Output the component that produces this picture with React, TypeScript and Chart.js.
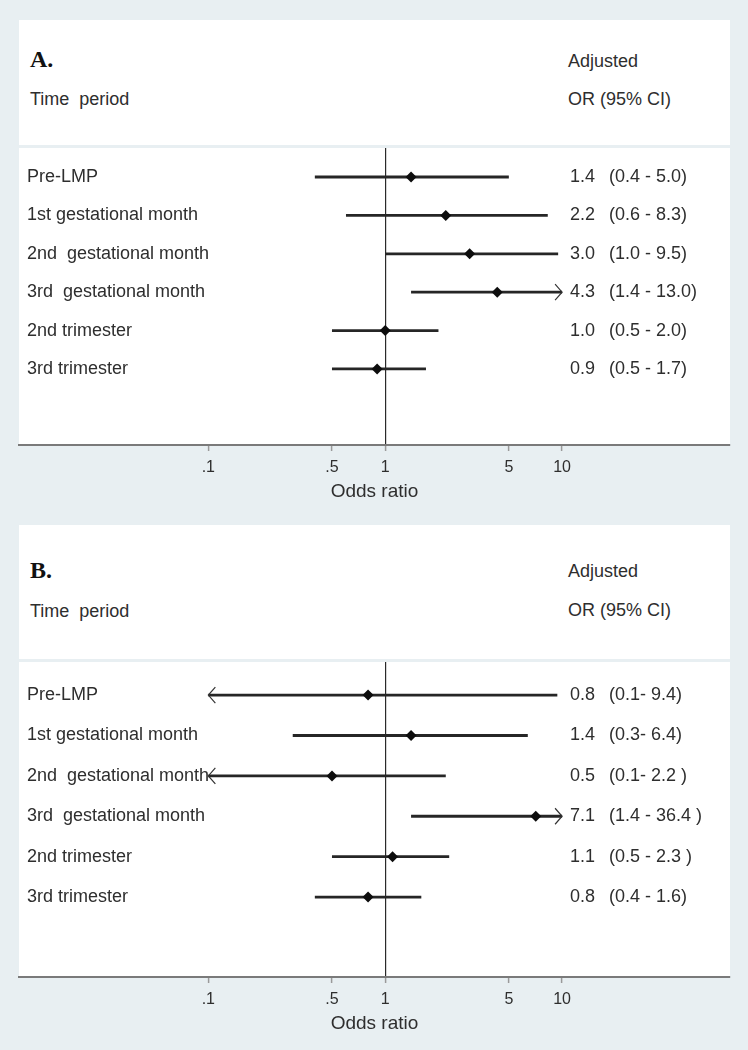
import React, { useEffect, useRef } from "react";
import { Chart, registerables } from "chart.js";

Chart.register(...registerables);

// ---------------- data ----------------
const ROW_LABELS = [
  "Pre-LMP",
  "1st gestational month",
  "2nd  gestational month",
  "3rd  gestational month",
  "2nd trimester",
  "3rd trimester",
];

// Panel A
const A_OR = [1.4, 2.2, 3.0, 4.3, 1.0, 0.9];
const A_LO = [0.4, 0.6, 1.0, 1.4, 0.5, 0.5];
const A_HI = [5.0, 8.3, 9.5, 13.0, 2.0, 1.7];
const A_OR_TEXT = ["1.4", "2.2", "3.0", "4.3", "1.0", "0.9"];
const A_CI_TEXT = ["(0.4 - 5.0)", "(0.6 - 8.3)", "(1.0 - 9.5)", "(1.4 - 13.0)", "(0.5 - 2.0)", "(0.5 - 1.7)"];

// Panel B
const B_OR = [0.8, 1.4, 0.5, 7.1, 1.1, 0.8];
const B_LO = [0.1, 0.3, 0.1, 1.4, 0.5, 0.4];
const B_HI = [9.4, 6.4, 2.2, 36.4, 2.3, 1.6];
const B_OR_TEXT = ["0.8", "1.4", "0.5", "7.1", "1.1", "0.8"];
const B_CI_TEXT = ["(0.1- 9.4)", "(0.3- 6.4)", "(0.1- 2.2 )", "(1.4 - 36.4 )", "(0.5 - 2.3 )", "(0.4 - 1.6)"];

// axis
const TICK_VALUES = [0.1, 0.5, 1, 5, 10];
const TICK_LABELS = [".1", ".5", "1", "5", "10"];
const CLIP_MIN = 0.1;
const CLIP_MAX = 10;
const X_MIN = 0.0085;
const X_MAX = 89;

// ---------------- style ----------------
const BG = "#e8eff2";
const INK = "#2e2e2e";
const FONT = '"Liberation Sans", Arial, sans-serif';
const SERIF = '"Liberation Serif", "Times New Roman", serif';

const forestPlugin = {
  id: "forest",
  beforeDraw(chart: any) {
    const { ctx, chartArea } = chart;
    ctx.save();
    ctx.fillStyle = "#ffffff";
    ctx.fillRect(chartArea.left, chartArea.top, chartArea.right - chartArea.left, chartArea.bottom - chartArea.top);
    ctx.restore();
  },
  afterDatasetsDraw(chart: any, _args: any, opts: any) {
    const { ctx, chartArea } = chart;
    const xs = chart.scales.x;
    const ys = chart.scales.y;
    const lo: number[] = opts.lo;
    const hi: number[] = opts.hi;
    ctx.save();
    // arrows for clipped intervals
    ctx.strokeStyle = "#333";
    ctx.lineWidth = 1.2;
    for (let i = 0; i < lo.length; i++) {
      const y = ys.getPixelForValue(i);
      if (lo[i] <= CLIP_MIN) {
        const x = xs.getPixelForValue(CLIP_MIN);
        ctx.beginPath();
        ctx.moveTo(x + 7, y - 8);
        ctx.lineTo(x, y);
        ctx.lineTo(x + 7, y + 8);
        ctx.stroke();
      }
      if (hi[i] >= CLIP_MAX) {
        const x = xs.getPixelForValue(CLIP_MAX);
        ctx.beginPath();
        ctx.moveTo(x - 7, y - 8);
        ctx.lineTo(x, y);
        ctx.lineTo(x - 7, y + 8);
        ctx.stroke();
      }
    }
    // row labels and estimates
    ctx.fillStyle = INK;
    ctx.font = `18px ${FONT}`;
    ctx.textBaseline = "middle";
    ctx.textAlign = "left";
    const labels: string[] = opts.labels;
    const orText: string[] = opts.orText;
    const ciText: string[] = opts.ciText;
    for (let i = 0; i < labels.length; i++) {
      const y = ys.getPixelForValue(i);
      ctx.fillText(labels[i], chartArea.left + 8, y);
      ctx.fillText(orText[i], chartArea.left + 551, y);
      ctx.fillText(ciText[i], chartArea.left + 590, y);
    }
    ctx.restore();
  },
};

type PanelProps = {
  or: number[];
  lo: number[];
  hi: number[];
  orText: string[];
  ciText: string[];
  height: number;
  padTop: number;
  padBottom: number;
  yMin: number;
  yMax: number;
};

function ForestChart(p: PanelProps) {
  const ref = useRef<HTMLCanvasElement | null>(null);
  useEffect(() => {
    if (!ref.current) return;
    const lineSets = p.lo.map((l, i) => ({
      type: "scatter" as const,
      data: [
        { x: Math.max(l, CLIP_MIN), y: i },
        { x: Math.min(p.hi[i], CLIP_MAX), y: i },
      ],
      showLine: true,
      borderColor: "#262626",
      borderWidth: 2.8,
      pointRadius: 0,
      order: 1,
    }));
    const chart = new Chart(ref.current, {
      type: "scatter",
      data: {
        datasets: [
          {
            data: p.or.map((v, i) => ({ x: v, y: i })),
            pointStyle: "rectRot",
            pointRadius: 5.5,
            backgroundColor: "#0d0d0d",
            borderWidth: 0,
            order: 0,
          },
          ...lineSets,
        ] as any,
      },
      options: {
        responsive: false,
        animation: false,
        devicePixelRatio: 1,
        events: [],
        layout: { padding: { left: 19, right: 18, top: p.padTop, bottom: p.padBottom } },
        plugins: {
          legend: { display: false },
          tooltip: { enabled: false },
          forest: {
            lo: p.lo,
            hi: p.hi,
            labels: ROW_LABELS,
            orText: p.orText,
            ciText: p.ciText,
          },
        } as any,
        scales: {
          x: {
            type: "logarithmic",
            position: "bottom",
            min: X_MIN,
            max: X_MAX,
            afterBuildTicks: (s: any) => {
              s.ticks = TICK_VALUES.map((v) => ({ value: v }));
            },
            afterFit: (s: any) => {
              s.height = 70;
            },
            ticks: {
              autoSkip: false,
              maxRotation: 0,
              padding: 7,
              color: INK,
              font: { size: 16, family: FONT },
              callback: (_v: any, i: number) => TICK_LABELS[i],
            },
            grid: {
              drawOnChartArea: true,
              drawTicks: true,
              tickLength: 6,
              tickColor: "#9a9a9a",
              tickWidth: 1.5,
              lineWidth: 1.2,
              color: (c: any) => (c.tick && c.tick.value === 1 ? "#2a2a2a" : "rgba(0,0,0,0)"),
            },
            border: { display: true, color: "#7a7a7a", width: 2 },
            title: {
              display: true,
              text: "Odds ratio",
              color: INK,
              font: { size: 19, family: FONT },
              padding: { top: 0, bottom: 12 },
            },
          },
          y: {
            type: "linear",
            display: false,
            reverse: true,
            min: p.yMin,
            max: p.yMax,
          },
        },
      } as any,
      plugins: [forestPlugin],
    });
    return () => chart.destroy();
  }, []);
  return <canvas ref={ref} width={748} height={p.height} style={{ display: "block" }} />;
}

function Txt(props: { x: number; cy: number; text: string; size?: number; bold?: boolean; serif?: boolean }) {
  const size = props.size ?? 18;
  return (
    <div
      style={{
        position: "absolute",
        left: props.x,
        top: props.cy - size * 0.6,
        fontSize: size,
        lineHeight: `${size * 1.2}px`,
        fontFamily: props.serif ? SERIF : FONT,
        fontWeight: props.bold ? 700 : 400,
        color: props.serif ? "#111" : INK,
        whiteSpace: "pre",
      }}
    >
      {props.text}
    </div>
  );
}

export default function App() {
  useEffect(() => {
    document.body.style.margin = "0";
  }, []);
  return (
    <div style={{ position: "relative", width: 748, height: 1050, background: BG, overflow: "hidden" }}>
      {/* Panel A header */}
      <div style={{ position: "absolute", left: 19, top: 20, width: 711, height: 125, background: "#fff" }} />
      <Txt x={30} cy={59} text="A." size={24} bold serif />
      <Txt x={568} cy={62} text="Adjusted" />
      <Txt x={30} cy={100} text="Time  period" />
      <Txt x={568} cy={100} text="OR (95% CI)" />
      <div style={{ position: "absolute", left: 0, top: 0 }}>
        <ForestChart
          or={A_OR}
          lo={A_LO}
          hi={A_HI}
          orText={A_OR_TEXT}
          ciText={A_CI_TEXT}
          height={520}
          padTop={148}
          padBottom={5}
          yMin={-0.755}
          yMax={6.98}
        />
      </div>
      {/* Panel B header */}
      <div style={{ position: "absolute", left: 19, top: 525, width: 711, height: 134, background: "#fff" }} />
      <Txt x={30} cy={570} text="B." size={24} bold serif />
      <Txt x={568} cy={572} text="Adjusted" />
      <Txt x={30} cy={612} text="Time  period" />
      <Txt x={568} cy={611} text="OR (95% CI)" />
      <div style={{ position: "absolute", left: 0, top: 520 }}>
        <ForestChart
          or={B_OR}
          lo={B_LO}
          hi={B_HI}
          orText={B_OR_TEXT}
          ciText={B_CI_TEXT}
          height={530}
          padTop={142}
          padBottom={3}
          yMin={-0.82}
          yMax={6.98}
        />
      </div>
    </div>
  );
}
